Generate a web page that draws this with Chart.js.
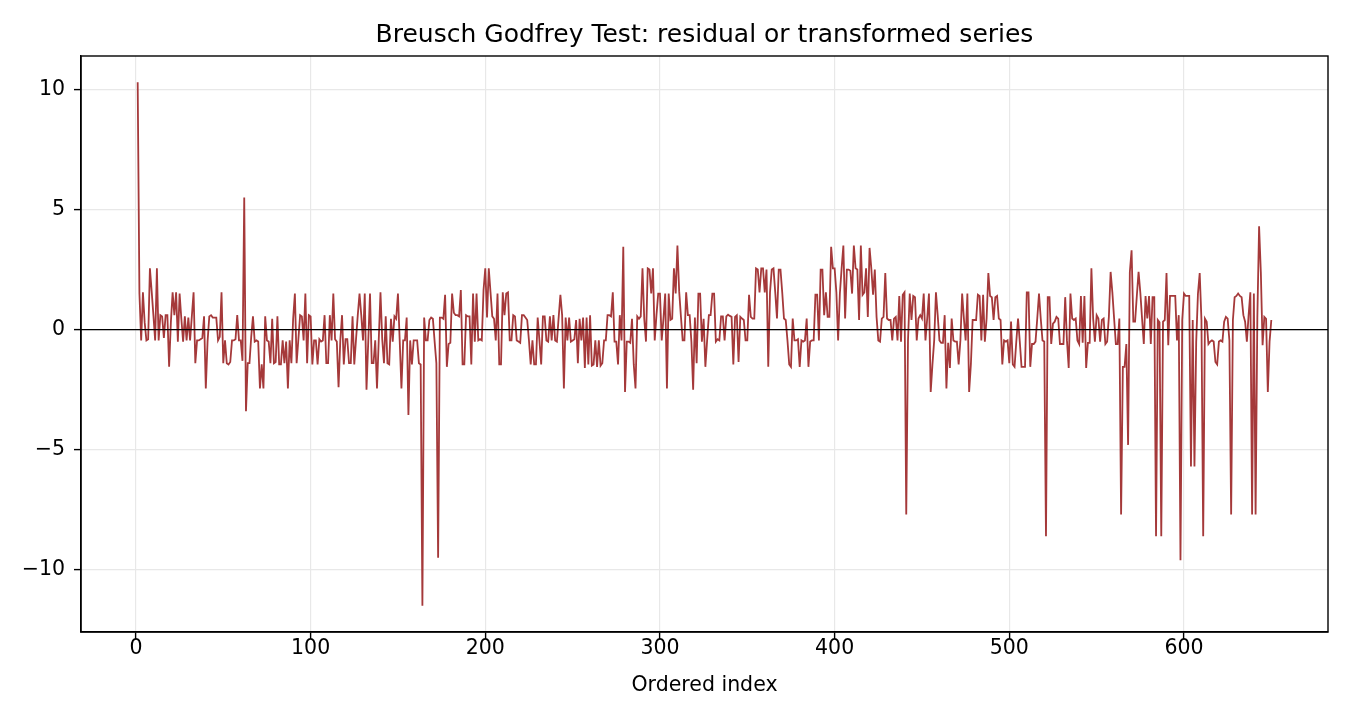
<!DOCTYPE html>
<html>
<head>
<meta charset="utf-8">
<script src="https://cdn.jsdelivr.net/npm/chart.js@4.4.1/dist/chart.umd.min.js"></script>
<style>
  html, body { margin: 0; padding: 0; background: #fff; }
  canvas { display: block; }
</style>
</head>
<body>
<canvas id="bgChart" width="1350" height="720"></canvas>
<script>
// residual series, ordered index 1..650
const residuals = [
  10.3, 1.5, -0.45, 1.55, 0.3, -0.45, -0.4, 2.55, 1.6, 0.6,
  -0.45, 2.55, -0.45, 0.6, 0.55, -0.35, 0.6, 0.6, -1.55, 0.3,
  1.55, 0.6, 1.55, -0.5, 1.5, 0.45, -0.5, 0.55, -0.45, 0.5,
  -0.45, 0.55, 1.55, -1.4, -0.45, -0.45, -0.4, -0.35, 0.55, -2.45,
  -0.5, 0.55, 0.6, 0.5, 0.5, 0.5, -0.45, -0.3, 1.55, -1.4,
  -0.45, -1.4, -1.45, -1.35, -0.45, -0.45, -0.4, 0.6, -0.45, -0.45,
  -1.3, 5.5, -3.4, -1.4, -1.4, -0.3, 0.55, -0.5, -0.45, -0.5,
  -2.45, -1.45, -2.45, 0.55, -0.45, -0.5, -1.4, 0.45, -1.4, -1.35,
  0.55, -1.45, -1.45, -0.45, -1.4, -0.5, -2.45, -0.45, -1.4, 0.45,
  1.5, -1.4, -0.4, 0.6, 0.55, -0.45, 1.5, -1.4, 0.6, 0.55,
  -1.45, -0.45, -0.45, -1.45, -0.4, -0.5, -0.45, 0.6, -1.4, -1.4,
  0.6, -0.45, 1.5, -0.4, -0.5, -2.4, -0.45, 0.6, -1.45, -0.4,
  -0.4, -1.4, -1.4, 0.55, -1.45, -0.4, 0.6, 1.5, 0.6, -0.45,
  1.5, -2.5, -0.5, 1.5, -1.4, -1.4, -0.45, -2.45, -0.45, 1.55,
  -0.4, -1.4, 0.55, -1.4, -1.45, 0.45, -0.5, 0.55, 0.45, 1.5,
  -0.45, -2.45, -0.45, -0.45, 0.5, -3.55, -0.45, -1.45, -0.45, -0.45,
  -0.45, -1.4, -1.45, -11.5, 0.5, -0.45, -0.45, 0.4, 0.5, 0.45,
  -0.5, -1.4, -9.5, 0.5, 0.5, 0.45, 1.45, -1.55, -0.6, -0.55,
  1.5, 0.7, 0.6, 0.6, 0.55, 1.65, -1.45, -1.45, 0.6, 0.55,
  0.55, -1.45, 1.5, -0.5, 1.5, -0.45, -0.4, -0.45, 1.65, 2.55,
  0.5, 2.55, 1.55, 0.55, 0.45, -0.45, 1.5, -1.45, -1.45, 1.55,
  0.6, 1.5, 1.55, -0.45, -0.45, 0.6, 0.55, -0.45, -0.5, -0.55,
  0.6, 0.6, 0.5, 0.4, -0.45, -1.45, -0.45, -1.45, -1.45, 0.5,
  -0.45, -1.45, 0.55, 0.55, -0.45, -0.5, 0.55, -0.45, 0.6, -0.45,
  -0.5, 0.5, 1.45, 0.6, -2.45, 0.5, -0.45, 0.5, -0.5, -0.45,
  -0.4, 0.4, -1.4, 0.45, -0.45, 0.5, -1.6, 0.5, -1.45, 0.6,
  -1.5, -1.45, -0.45, -1.55, -0.45, -1.5, -1.4, -0.45, -0.45, 0.6,
  0.6, 0.55, 1.55, -0.5, -0.5, -1.45, 0.6, -0.45, 3.45, -2.6,
  -0.5, -0.5, -0.55, 0.45, -1.45, -2.45, 0.55, 0.45, 0.55, 2.55,
  0.45, -0.5, 2.55, 2.5, 1.5, 2.55, -0.45, 0.6, 1.5, 1.5,
  -0.45, 0.45, 1.5, -2.45, 1.5, 0.4, 0.45, 2.55, 1.5, 3.5,
  1.6, 0.55, -0.45, -0.45, 1.55, 0.6, 0.6, -0.5, -2.5, 0.5,
  -1.4, 1.5, 1.5, -0.5, 0.45, -1.55, -0.45, 0.6, 0.6, 1.5,
  1.5, -0.5, -0.4, -0.45, 0.55, 0.55, -0.45, 0.55, 0.62, 0.57,
  0.53, -1.45, 0.53, 0.6, -1.35, 0.53, 0.46, 0.4, -0.45, -0.45,
  1.45, 0.53, 0.46, 0.46, 2.55, 2.5, 1.55, 2.55, 2.55, 1.55,
  2.5, -1.55, 1.55, 2.5, 2.55, 1.55, 0.46, 2.5, 2.5, 1.55,
  0.46, 0.4, -0.45, -1.45, -1.55, 0.46, -0.45, -0.45, -0.4, -1.55,
  -0.45, -0.5, -0.45, 0.46, -1.55, -0.5, -0.45, -0.45, 1.45, 1.45,
  -0.45, 2.5, 2.5, 0.6, 1.55, 0.53, 0.53, 3.45, 2.55, 2.55,
  1.55, -0.45, 1.5, 2.55, 3.5, 0.46, 2.5, 2.5, 2.45, 1.5,
  3.5, 2.55, 2.5, 0.4, 3.5, 1.45, 1.55, 2.55, 0.53, 3.4,
  2.55, 1.45, 2.5, 0.53, -0.45, -0.5, 0.46, 0.53, 2.35, 0.46,
  0.4, 0.4, -0.45, 0.46, 0.53, -0.45, 1.4, -0.5, 1.45, 1.55,
  -7.7, -0.45, 1.5, 0.4, 1.4, 1.35, -0.45, 0.46, 0.6, 0.46,
  1.5, -0.45, 0.46, 1.5, -2.6, -1.45, -0.45, 1.55, 0.6, -0.45,
  -0.55, -0.55, 0.6, -2.45, -0.55, -1.6, 0.46, -0.45, -0.5, -0.5,
  -1.45, -0.45, 1.5, 0.46, -0.45, 1.5, -2.6, -1.45, 0.4, 0.4,
  0.4, 1.45, 1.4, -0.45, 1.45, -0.5, 0.46, 2.35, 1.4, 1.35,
  0.4, 1.35, 1.4, 0.46, 0.4, -1.45, -0.45, -0.5, -0.45, -1.4,
  0.33, -1.45, -1.55, -0.5, 0.46, -0.5, -1.55, -1.55, -1.55, 1.55,
  1.55, -1.55, -0.6, -0.6, -0.5, 0.46, 1.5, 0.46, -0.45, -0.5,
  -8.6, 1.35, 1.35, -0.6, 0.25, 0.33, 0.53, 0.46, -0.6, -0.6,
  -0.6, 1.35, -0.45, -1.6, 1.5, 0.46, 0.4, 0.46, -0.45, -0.6,
  1.4, -0.55, 1.4, -1.6, -0.55, -0.55, 2.55, 0.46, -0.5, 0.6,
  0.46, -0.5, 0.4, 0.46, -0.6, -0.5, 0.53, 2.4, 1.55, 0.46,
  -0.6, -0.6, 0.46, -7.7, -1.55, -1.55, -0.6, -4.8, 2.4, 3.3,
  0.33, 0.33, 1.4, 2.4, 1.55, 0.46, -0.6, 1.4, 0.46, 1.4,
  -0.6, 1.35, 1.35, -8.6, 0.4, 0.3, -8.6, 0.33, 0.4, 2.35,
  -0.65, 1.4, 1.4, 1.4, 1.4, -0.45, 0.6, -9.6, 0.4, 1.5,
  1.4, 1.4, 1.4, -5.7, 0.4, -5.7, -0.5, 1.5, 2.35, 0.4,
  -8.6, 0.46, 0.33, -0.6, -0.5, -0.45, -0.5, -1.35, -1.45, -0.5,
  -0.45, -0.5, 0.33, 0.53, 0.46, -0.45, -7.7, 0.4, 1.35, 1.4,
  1.5, 1.4, 1.35, 0.6, 0.33, -0.5, 0.6, 1.55, -7.7, 1.5,
  -7.7, 0.5, 4.3, 2.4, -0.65, 0.53, 0.45, -2.6, -0.5, 0.4
];

const xTickValues = [0, 100, 200, 300, 400, 500, 600];
const yTickValues = [-10, -5, 0, 5, 10];
const chartTitle = 'Breusch Godfrey Test: residual or transformed series';

const FONT = "'DejaVu Sans', 'Liberation Sans', sans-serif";
const lineColor = '#a5393a';
const gridColor = '#e8e8e8';

// points (ordered index, value)
const points = residuals.map((v, i) => ({ x: i + 1, y: v }));

// frame on all four sides + black zero line + title centred on the plot area
const framePlugin = {
  id: 'frame',
  afterDatasetsDraw(chart) {
    const { ctx, chartArea: a, scales } = chart;
    const y0 = scales.y.getPixelForValue(0);
    ctx.save();
    ctx.strokeStyle = '#000';
    ctx.lineWidth = 1.2;
    ctx.beginPath();
    ctx.moveTo(a.left, y0);
    ctx.lineTo(a.right, y0);
    ctx.stroke();
    ctx.lineWidth = 1.4;
    ctx.strokeRect(a.left, a.top, a.right - a.left, a.bottom - a.top);
    ctx.restore();
  },
  afterDraw(chart) {
    const { ctx, chartArea: a } = chart;
    ctx.save();
    ctx.fillStyle = '#000';
    ctx.font = '25px ' + FONT;
    ctx.textAlign = 'center';
    ctx.textBaseline = 'middle';
    ctx.fillText(chartTitle, (a.left + a.right) / 2, 35);
    ctx.restore();
  }
};

const ctx = document.getElementById('bgChart').getContext('2d');
const bgChart = new Chart(ctx, {
  type: 'line',
  data: {
    datasets: [{
      data: points,
      borderColor: lineColor,
      borderWidth: 1.8,
      pointRadius: 0,
      tension: 0,
      fill: false
    }]
  },
  options: {
    responsive: false,
    animation: false,
    devicePixelRatio: 1,
    layout: { padding: { left: 0, right: 22, top: 56, bottom: 0 } },
    plugins: {
      legend: { display: false },
      tooltip: { enabled: false },
      title: { display: false }
    },
    scales: {
      x: {
        type: 'linear',
        min: -31.45,
        max: 682.45,
        afterBuildTicks: (axis) => { axis.ticks = xTickValues.map(v => ({ value: v })); },
        afterFit: (axis) => { axis.height = 88; },
        grid: { color: gridColor, lineWidth: 1.2, tickColor: '#000', tickLength: 7, tickWidth: 1.4 },
        border: { display: true, color: '#000', width: 1.4 },
        ticks: {
          color: '#000',
          padding: -3,
          maxRotation: 0,
          font: { family: FONT, size: 20.5 },
          callback: (v) => String(v)
        },
        title: {
          display: true,
          text: 'Ordered index',
          color: '#000',
          font: { family: FONT, size: 20.5 },
          padding: { top: 0, bottom: 22 }
        }
      },
      y: {
        min: -12.59,
        max: 11.39,
        afterBuildTicks: (axis) => { axis.ticks = yTickValues.map(v => ({ value: v })); },
        afterFit: (axis) => { axis.width = 81; },
        grid: { color: gridColor, lineWidth: 1.2, tickColor: '#000', tickLength: 7, tickWidth: 1.4 },
        border: { display: true, color: '#000', width: 1.4 },
        ticks: {
          color: '#000',
          padding: 9,
          font: { family: FONT, size: 20.5 },
          callback: (v) => (v < 0 ? '\u2212' + Math.abs(v) : String(v))
        }
      }
    }
  },
  plugins: [framePlugin]
});
</script>
</body>
</html>
